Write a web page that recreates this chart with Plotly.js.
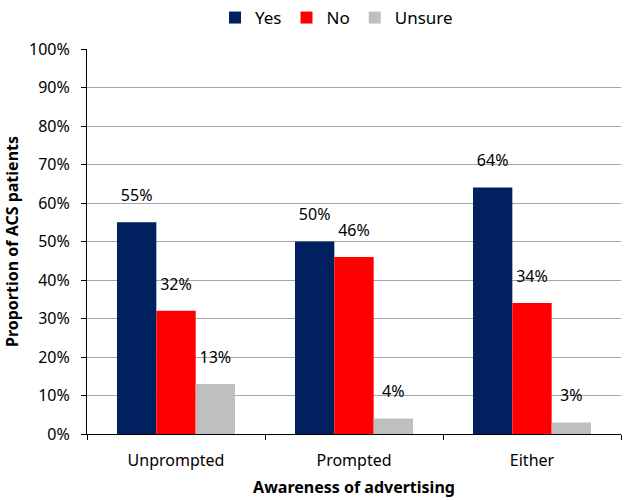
<!DOCTYPE html>
<html>
<head>
<meta charset="utf-8">
<script src="https://cdn.plot.ly/plotly-3.0.1.min.js"></script>
<style>html,body{margin:0;padding:0;background:#fff;}#chart{width:625px;height:500px;}</style>
</head>
<body>
<div id="chart"></div>
<script>
const categories = ["Unprompted", "Prompted", "Either"];
const yesValues = [55, 50, 64];
const noValues = [32, 46, 34];
const unsureValues = [13, 4, 3];
const seriesNames = ["Yes", "No", "Unsure"];
const seriesColors = ["#002060", "#FF0000", "#BFBFBF"];
const yTickValues = [0, 10, 20, 30, 40, 50, 60, 70, 80, 90, 100];

const FONT = "Noto Sans, DejaVu Sans, sans-serif";
const allValues = [yesValues, noValues, unsureValues];
const barTraces = allValues.map((vals, i) => ({
  type: "bar",
  name: seriesNames[i],
  x: categories,
  y: vals,
  marker: {color: seriesColors[i], line: {width: 0}},
  hoverinfo: "none"
}));
const labelTraces = allValues.map((vals, i) => ({
  type: "scatter",
  mode: "markers+text",
  showlegend: false,
  x: categories,
  y: vals,
  marker: {size: 26, opacity: 0, color: seriesColors[i]},
  text: vals.map(v => v + "%"),
  textposition: "top center",
  textfont: {family: FONT, size: 16, color: "#000"},
  cliponaxis: false,
  hoverinfo: "none"
}));

const layout = {
  width: 625, height: 500,
  margin: {l: 87, r: 4, t: 49, b: 66},
  paper_bgcolor: "#fff", plot_bgcolor: "#fff",
  barmode: "group",
  bargap: 0.337,
  bargroupgap: 0,
  scattermode: "group",
  scattergap: 0.337,
  font: {family: FONT, size: 16, color: "#000"},
  showlegend: true,
  legend: {orientation: "h", x: 0.344, xref: "container", xanchor: "left", y: 1.0, yref: "container", yanchor: "top",
           font: {family: FONT, size: 17}, traceorder: "normal", itemwidth: 30},
  xaxis: {
    type: "category",
    showline: true, linecolor: "#000", linewidth: 1,
    ticks: "outside", tickson: "boundaries", ticklen: 5, tickcolor: "#000",
    ticklabelstandoff: 12,
    showgrid: false,
    tickfont: {family: FONT, size: 16},
    title: {text: "<b>Awareness of advertising</b>", font: {family: FONT, size: 16}, standoff: 11}
  },
  yaxis: {
    range: [0, 100],
    tickvals: yTickValues,
    ticktext: yTickValues.map(v => v + "%"),
    showline: true, linecolor: "#000", linewidth: 1,
    ticks: "outside", ticklen: 5, tickcolor: "#000",
    ticklabelstandoff: 8,
    showgrid: true, gridcolor: "#A6A6A6", gridwidth: 1,
    zeroline: false,
    tickfont: {family: FONT, size: 16},
    title: {text: "<b>Proportion of ACS patients</b>", font: {family: FONT, size: 16}, standoff: 6}
  }
};

Plotly.newPlot("chart", barTraces.concat(labelTraces), layout, {staticPlot: true, displayModeBar: false});
</script>
</body>
</html>
